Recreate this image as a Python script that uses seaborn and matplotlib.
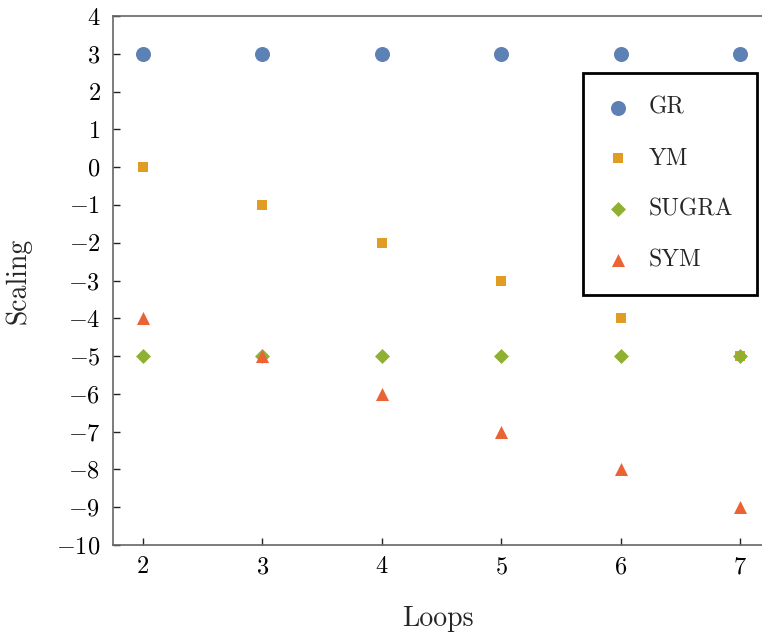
import matplotlib
matplotlib.use("Agg")
import matplotlib.pyplot as plt
import seaborn as sns
import pandas as pd

loops = [2, 3, 4, 5, 6, 7]
gr = [3, 3, 3, 3, 3, 3]
ym = [0, -1, -2, -3, -4, -5]
sugra = [-5, -5, -5, -5, -5, -5]
sym = [-4, -5, -6, -7, -8, -9]
yticks = list(range(-10, 5))
xticks = [2, 3, 4, 5, 6, 7]

series = [("GR", gr), ("YM", ym), ("SUGRA", sugra), ("SYM", sym)]
colors = {"GR": "#5E81B5", "YM": "#E19C24", "SUGRA": "#8FB032", "SYM": "#EB6235"}
markers = {"GR": "o", "YM": "s", "SUGRA": "D", "SYM": "^"}
msizes = {"GR": 117, "YM": 52, "SUGRA": 58, "SYM": 88}

sns.set_theme(style="white")
plt.rcParams["font.family"] = ["cmr10", "DejaVu Serif"]
plt.rcParams["mathtext.fontset"] = "cm"
plt.rcParams["axes.formatter.use_mathtext"] = True

fig = plt.figure(figsize=(7.62, 6.33), dpi=100)
ax = fig.add_axes([113 / 762, 1 - 545 / 633, 1 - 113 / 762, (545 - 16) / 633])

for name, vals in series:
    df = pd.DataFrame({"Loops": loops, "Scaling": vals})
    sns.scatterplot(data=df, x="Loops", y="Scaling", ax=ax, color=colors[name],
                    marker=markers[name], s=msizes[name], linewidth=0, label=name)

ax.set_xlim(1.749, 7.185)
ax.set_ylim(-10, 4)
ax.set_xticks(xticks)
ax.set_yticks(yticks)
ax.tick_params(axis="both", direction="in", length=5, width=1, colors="#222222",
               labelsize=17.5, labelcolor="black")
ax.tick_params(axis="y", pad=9, left=True)
ax.tick_params(axis="x", pad=8, bottom=True)
for s in ["left", "bottom", "top"]:
    ax.spines[s].set_color("#666666")
    ax.spines[s].set_linewidth(1.2)
ax.spines["right"].set_visible(False)

ax.set_xlabel("Loops", fontsize=20, labelpad=20)
ax.set_ylabel("Scaling", fontsize=20, labelpad=18)

leg = ax.legend(loc="upper left", bbox_to_anchor=(583 / 762, 1 - 73 / 633),
                bbox_transform=fig.transFigure, fontsize=17, frameon=True,
                fancybox=False, edgecolor="black", framealpha=1,
                borderpad=1.0, labelspacing=1.22, handlelength=1.0,
                handletextpad=0.8, scatterpoints=1, borderaxespad=0)
leg.get_frame().set_linewidth(2)

fig.savefig("out.png", dpi=100)
